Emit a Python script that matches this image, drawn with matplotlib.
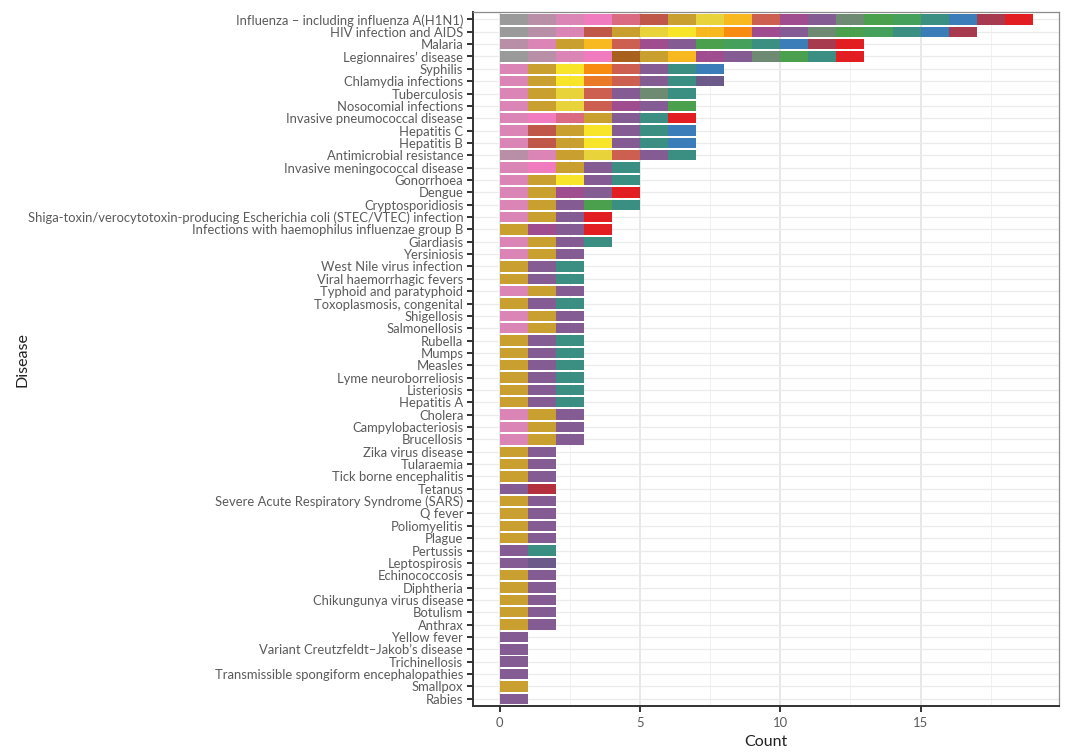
import matplotlib
matplotlib.use("Agg")
import matplotlib.pyplot as plt
from matplotlib.ticker import MultipleLocator

# colour of each stacked category (ramp from grey to red)
palette = {
    "gr": "#9a9a9a", "mv": "#b98fa8", "pk": "#da85b5", "hp": "#f07cbf",
    "ro": "#d96a82", "br": "#c0584a", "bn": "#a9601f", "gd": "#c9a030",
    "ly": "#e8d33a", "by": "#f8e428", "am": "#f8b920", "or": "#f88c10",
    "do": "#ea7a28", "rr": "#cc5f50", "mg": "#a04d8f", "pu": "#855b93",
    "gg": "#6e8a72", "g1": "#4aa04d", "g2": "#45a05c", "tl": "#3b8f82",
    "bl": "#3a7db8", "sl": "#6b5a8a", "mr": "#a83a50", "rd": "#e21e22",
    "tr": "#b3303c",
}

diseases = [
    "Influenza – including influenza A(H1N1)", "HIV infection and AIDS", "Malaria",
    "Legionnaires’ disease", "Syphilis", "Chlamydia infections", "Tuberculosis",
    "Nosocomial infections", "Invasive pneumococcal disease", "Hepatitis C", "Hepatitis B",
    "Antimicrobial resistance", "Invasive meningococcal disease", "Gonorrhoea", "Dengue",
    "Cryptosporidiosis",
    "Shiga-toxin/verocytotoxin-producing Escherichia coli (STEC/VTEC) infection",
    "Infections with haemophilus influenzae group B", "Giardiasis", "Yersiniosis",
    "West Nile virus infection", "Viral haemorrhagic fevers", "Typhoid and paratyphoid",
    "Toxoplasmosis, congenital", "Shigellosis", "Salmonellosis", "Rubella", "Mumps",
    "Measles", "Lyme neuroborreliosis", "Listeriosis", "Hepatitis A", "Cholera",
    "Campylobacteriosis", "Brucellosis", "Zika virus disease", "Tularaemia",
    "Tick borne encephalitis", "Tetanus", "Severe Acute Respiratory Syndrome (SARS)",
    "Q fever", "Poliomyelitis", "Plague", "Pertussis", "Leptospirosis", "Echinococcosis",
    "Diphtheria", "Chikungunya virus disease", "Botulism", "Anthrax", "Yellow fever",
    "Variant Creutzfeldt–Jakob’s disease", "Trichinellosis",
    "Transmissible spongiform encephalopathies", "Smallpox", "Rabies",
]

# one entry per unit of count, in stacking order
segments = [
    "gr mv pk hp ro br gd ly am rr mg pu gg g1 g2 tl bl mr rd",
    "gr mv pk br gd ly by am or mg pu gg g1 g2 tl bl mr",
    "mv pk gd am rr mg pu g1 g2 tl bl mr rd",
    "gr mv pk hp bn gd am mg pu gg g1 tl rd",
    "pk gd by or rr pu tl bl",
    "pk gd by do rr pu tl sl",
    "pk gd ly rr pu gg tl",
    "pk gd ly rr mg pu g1",
    "pk hp ro gd pu tl rd",
    "pk br gd by pu tl bl",
    "pk br gd by pu tl bl",
    "mv pk gd ly rr pu tl",
    "pk hp gd pu tl",
    "pk gd by pu tl",
    "pk gd mg pu rd",
    "pk gd pu g1 tl",
    "pk gd pu rd",
    "gd mg pu rd",
    "pk gd pu tl",
    "pk gd pu",
    "gd pu tl",
    "gd pu tl",
    "pk gd pu",
    "gd pu tl",
    "pk gd pu",
    "pk gd pu",
    "gd pu tl", "gd pu tl", "gd pu tl", "gd pu tl", "gd pu tl", "gd pu tl",
    "pk gd pu", "pk gd pu", "pk gd pu",
    "gd pu", "gd pu", "gd pu",
    "pu tr",
    "gd pu", "gd pu", "gd pu", "gd pu",
    "pu tl",
    "pu sl",
    "gd pu", "gd pu", "gd pu", "gd pu", "gd pu",
    "pu", "pu", "pu", "pu",
    "gd",
    "pu",
]

plt.rcParams["font.family"] = ["Lato", "DejaVu Sans"]
txt = "#5a5a5a"

fig = plt.figure(figsize=(10.8, 7.52), dpi=100)
ax = fig.add_axes([0.438, 0.061, 0.543, 0.923])

for i, seg in enumerate(segments):
    for j, code in enumerate(seg.split()):
        ax.barh(i, 1, left=j, height=0.84, color=palette[code], linewidth=0, zorder=3)

counts = [len(s.split()) for s in segments]
xmax = max(counts)
ax.set_xlim(-0.05 * xmax, xmax * 1.05)
ax.set_ylim(len(diseases) - 0.4, -0.6)

ax.set_yticks(range(len(diseases)))
ax.set_yticklabels(diseases, fontsize=9.4, color=txt)
ax.xaxis.set_major_locator(MultipleLocator(5))
ax.xaxis.set_minor_locator(MultipleLocator(2.5))
ax.tick_params(axis="x", which="major", labelsize=9.4, labelcolor=txt, length=4, width=1.4, color="#333333", pad=4)
ax.tick_params(axis="x", which="minor", length=0)
ax.tick_params(axis="y", length=4, width=1.4, color="#333333", pad=3)

ax.grid(axis="x", which="major", color="#e2e2e2", lw=1.1, zorder=0)
ax.grid(axis="x", which="minor", color="#efefef", lw=0.6, zorder=0)
ax.grid(axis="y", which="major", color="#ebebeb", lw=0.9, zorder=0)

for side in ["top", "right"]:
    ax.spines[side].set_color("#8a8a8a")
    ax.spines[side].set_linewidth(0.9)
for side in ["left", "bottom"]:
    ax.spines[side].set_color("#333333")
    ax.spines[side].set_linewidth(1.4)

ax.set_xlabel("Count", fontsize=11.5, color="#222222", labelpad=4)
ax.set_ylabel("Disease", fontsize=11.5, color="#222222")
ax.yaxis.set_label_coords(-0.757, 0.5)

fig.savefig("out.png", dpi=100, facecolor="white")
